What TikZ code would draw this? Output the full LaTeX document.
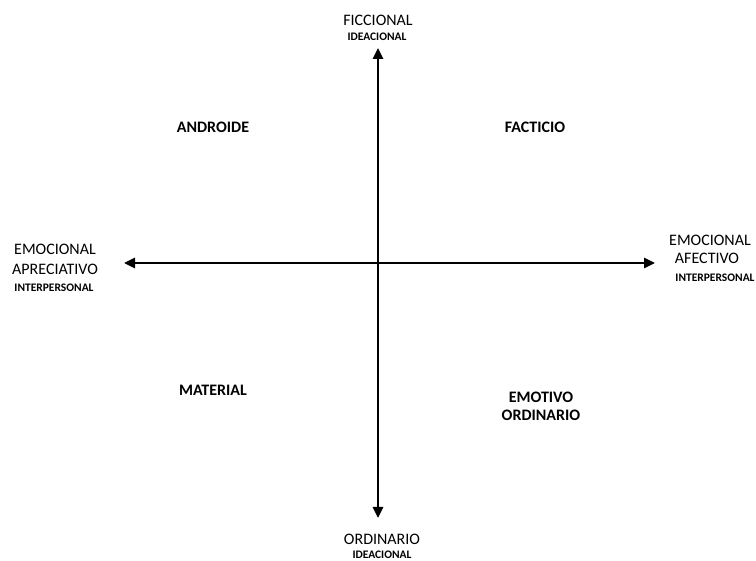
\documentclass[tikz,border=0pt]{standalone}
\usepackage{fontspec}
\setmainfont{Carlito}
\usetikzlibrary{arrows.meta}
\begin{document}
\begin{tikzpicture}[x=1pt,y=-1pt,
  axislabel/.style={inner sep=0pt,align=center,font=\fontsize{16}{20}\selectfont},
  sublabel/.style={inner sep=0pt,font=\fontsize{11.5}{12}\selectfont\bfseries},
  quadlabel/.style={inner sep=0pt,align=center,font=\fontsize{16}{18}\selectfont\bfseries},
  axis/.style={line width=2.6pt,-{Triangle[length=11pt,width=10pt]}}]
\useasboundingbox (0,0) rectangle (756,561);
% axes
\coordinate (c) at (378,263);
\coordinate (top) at (378,48);
\coordinate (bot) at (378,518);
\coordinate (lft) at (124,263);
\coordinate (rgt) at (655,263);
\draw[axis] (c) -- (top);
\draw[axis] (c) -- (bot);
\draw[axis] (c) -- (lft);
\draw[axis] (c) -- (rgt);
% top
\node[axislabel] (fic) at (378,20) {FICCIONAL};
\node[sublabel] (ideaT) at (377,37) {IDEACIONAL};
% bottom
\node[axislabel] (ord) at (382,539) {ORDINARIO};
\node[sublabel] (ideaB) at (382,554.5) {IDEACIONAL};
% left
\node[axislabel] (emoL) at (55,259) {EMOCIONAL\\APRECIATIVO};
\node[sublabel] (interL) at (54,288) {INTERPERSONAL};
% right
\node[axislabel] (emoR) at (710,240) {EMOCIONAL};
\node[axislabel] (afe) at (707,258) {AFECTIVO};
\node[sublabel] (interR) at (715,278) {INTERPERSONAL};
% quadrants
\node[quadlabel] (andr) at (213,127) {ANDROIDE};
\node[quadlabel] (fact) at (535,127) {FACTICIO};
\node[quadlabel] (mat) at (213,390) {MATERIAL};
\node[quadlabel] (emot) at (541,406) {EMOTIVO\\ORDINARIO};
\end{tikzpicture}
\end{document}
